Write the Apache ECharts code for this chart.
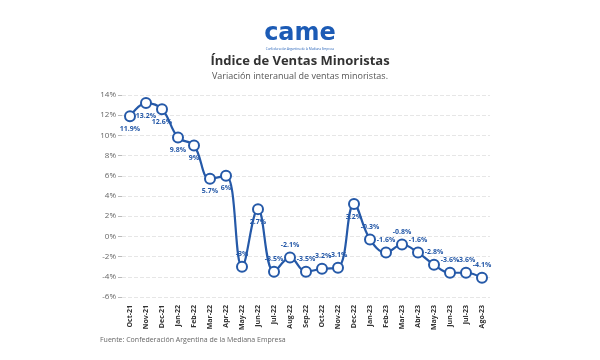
<!DOCTYPE html>
<html><head><meta charset="utf-8">
<script src="https://cdn.jsdelivr.net/npm/echarts@6/dist/echarts.min.js"></script>
<style>html,body{margin:0;padding:0;background:#fff}#c{width:600px;height:360px}</style>
</head><body><div id="c"></div>
<script>
const categories = ["Oct-21","Nov-21","Dec-21","Jan-22","Feb-22","Mar-22","Apr-22","May-22","Jun-22","Jul-22","Aug-22","Sep-22","Oct-22","Nov-22","Dec-22","Jan-23","Feb-23","Mar-23","Abr-23","May-23","Jun-23","Jul-23","Ago-23"];
const values = [11.9,13.2,12.6,9.8,9,5.7,6,-3,2.7,-3.5,-2.1,-3.5,-3.2,-3.1,3.2,-0.3,-1.6,-0.8,-1.6,-2.8,-3.6,-3.6,-4.1];
const yTicks = {min:-6, max:14, interval:2};
const blue = '#2559a8';
const chart = echarts.init(document.getElementById('c'));
const seriesData = values.map(v => ({
  value: v,
  label: {show:true, position: v >= 0 ? 'bottom' : 'top', distance: 3,
    formatter: v + '%', fontSize: 7, fontWeight: 'bold', color: blue, fontFamily: 'Open Sans',
    align: 'center'}
}));
chart.setOption({
  animation:false,
  backgroundColor:'#fff',
  graphic:[
    {type:'text', left:'center', top:22, style:{text:'came', font:'bold 24px "DejaVu Sans"', fill:'#1c5bb5'}},
    {type:'text', left:'center', top:48, style:{text:'Confederación Argentina de la Mediana Empresa', font:'3px "Open Sans"', fill:'#1c5bb5'}},
    {type:'text', left:'center', top:55, style:{text:'Índice de Ventas Minoristas', font:'bold 13px "Open Sans"', fill:'#333'}},
    {type:'text', left:'center', top:72, style:{text:'Variación interanual de ventas minoristas.', font:'9px "Open Sans"', fill:'#555'}},
    {type:'text', left:100, top:336, style:{text:'Fuente: Confederación Argentina de la Mediana Empresa', font:'7px "Open Sans"', fill:'#666'}}
  ],
  grid:{left:122, right:110, top:95, bottom:63},
  xAxis:{type:'category', data:categories, boundaryGap:true,
    axisLine:{show:false}, axisTick:{show:false},
    axisLabel:{rotate:90, interval:0, fontSize:7, fontWeight:'bold', color:'#333', fontFamily:'Open Sans', margin:8}},
  yAxis:{type:'value', min:yTicks.min, max:yTicks.max, interval:yTicks.interval,
    axisLine:{show:false}, axisTick:{show:true, length:4, lineStyle:{color:'#bbb'}},
    axisLabel:{formatter:'{value}%', fontSize:8, color:'#666', fontFamily:'Open Sans', margin:6},
    splitLine:{lineStyle:{color:'#e6e6e6', type:'dashed'}}},
  series:[{type:'line', data:seriesData, smooth:0.4,
    symbol:'circle', symbolSize:10,
    itemStyle:{color:'#fff', borderColor:blue, borderWidth:2},
    lineStyle:{color:blue, width:2.2}
  }]
});
</script></body></html>
